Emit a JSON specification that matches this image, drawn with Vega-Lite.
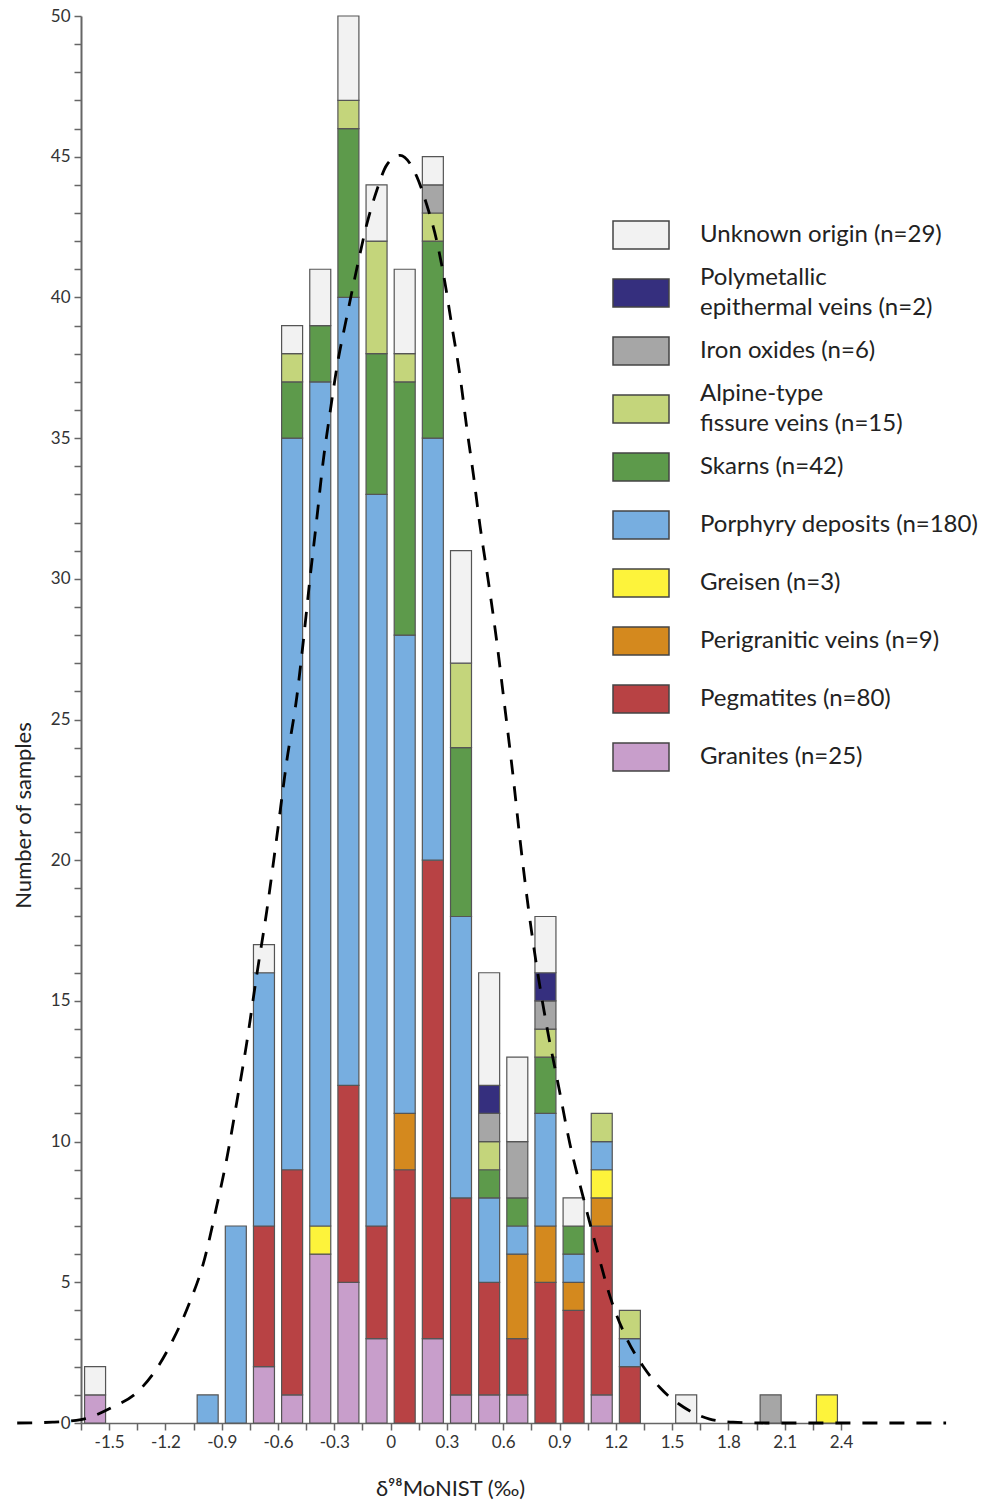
{
  "$schema": "https://vega.github.io/schema/vega-lite/v6.json",
  "width": 760,
  "height": 1407,
  "autosize": {"type": "none"},
  "padding": {"left": 81, "top": 16, "right": 146, "bottom": 83},
  "background": "white",
  "config": {"view": {"stroke": null}, "font": "Lato", "style": {"guide-label": {"lineHeight": 30}}},
  "datasets": {
    "bars": [
      {"d98Mo": -1.575, "type": "Granites (n=25)", "count": 1},
      {"d98Mo": -1.575, "type": "Unknown origin (n=29)", "count": 1},
      {"d98Mo": -0.975, "type": "Porphyry deposits (n=180)", "count": 1},
      {"d98Mo": -0.825, "type": "Porphyry deposits (n=180)", "count": 7},
      {"d98Mo": -0.675, "type": "Granites (n=25)", "count": 2},
      {"d98Mo": -0.675, "type": "Pegmatites (n=80)", "count": 5},
      {"d98Mo": -0.675, "type": "Porphyry deposits (n=180)", "count": 9},
      {"d98Mo": -0.675, "type": "Unknown origin (n=29)", "count": 1},
      {"d98Mo": -0.525, "type": "Granites (n=25)", "count": 1},
      {"d98Mo": -0.525, "type": "Pegmatites (n=80)", "count": 8},
      {"d98Mo": -0.525, "type": "Porphyry deposits (n=180)", "count": 26},
      {"d98Mo": -0.525, "type": "Skarns (n=42)", "count": 2},
      {"d98Mo": -0.525, "type": "Alpine-type fissure veins (n=15)", "count": 1},
      {"d98Mo": -0.525, "type": "Unknown origin (n=29)", "count": 1},
      {"d98Mo": -0.375, "type": "Granites (n=25)", "count": 6},
      {"d98Mo": -0.375, "type": "Greisen (n=3)", "count": 1},
      {"d98Mo": -0.375, "type": "Porphyry deposits (n=180)", "count": 30},
      {"d98Mo": -0.375, "type": "Skarns (n=42)", "count": 2},
      {"d98Mo": -0.375, "type": "Unknown origin (n=29)", "count": 2},
      {"d98Mo": -0.225, "type": "Granites (n=25)", "count": 5},
      {"d98Mo": -0.225, "type": "Pegmatites (n=80)", "count": 7},
      {"d98Mo": -0.225, "type": "Porphyry deposits (n=180)", "count": 28},
      {"d98Mo": -0.225, "type": "Skarns (n=42)", "count": 6},
      {"d98Mo": -0.225, "type": "Alpine-type fissure veins (n=15)", "count": 1},
      {"d98Mo": -0.225, "type": "Unknown origin (n=29)", "count": 3},
      {"d98Mo": -0.075, "type": "Granites (n=25)", "count": 3},
      {"d98Mo": -0.075, "type": "Pegmatites (n=80)", "count": 4},
      {"d98Mo": -0.075, "type": "Porphyry deposits (n=180)", "count": 26},
      {"d98Mo": -0.075, "type": "Skarns (n=42)", "count": 5},
      {"d98Mo": -0.075, "type": "Alpine-type fissure veins (n=15)", "count": 4},
      {"d98Mo": -0.075, "type": "Unknown origin (n=29)", "count": 2},
      {"d98Mo": 0.075, "type": "Pegmatites (n=80)", "count": 9},
      {"d98Mo": 0.075, "type": "Perigranitic veins (n=9)", "count": 2},
      {"d98Mo": 0.075, "type": "Porphyry deposits (n=180)", "count": 17},
      {"d98Mo": 0.075, "type": "Skarns (n=42)", "count": 9},
      {"d98Mo": 0.075, "type": "Alpine-type fissure veins (n=15)", "count": 1},
      {"d98Mo": 0.075, "type": "Unknown origin (n=29)", "count": 3},
      {"d98Mo": 0.225, "type": "Granites (n=25)", "count": 3},
      {"d98Mo": 0.225, "type": "Pegmatites (n=80)", "count": 17},
      {"d98Mo": 0.225, "type": "Porphyry deposits (n=180)", "count": 15},
      {"d98Mo": 0.225, "type": "Skarns (n=42)", "count": 7},
      {"d98Mo": 0.225, "type": "Alpine-type fissure veins (n=15)", "count": 1},
      {"d98Mo": 0.225, "type": "Iron oxides (n=6)", "count": 1},
      {"d98Mo": 0.225, "type": "Unknown origin (n=29)", "count": 1},
      {"d98Mo": 0.375, "type": "Granites (n=25)", "count": 1},
      {"d98Mo": 0.375, "type": "Pegmatites (n=80)", "count": 7},
      {"d98Mo": 0.375, "type": "Porphyry deposits (n=180)", "count": 10},
      {"d98Mo": 0.375, "type": "Skarns (n=42)", "count": 6},
      {"d98Mo": 0.375, "type": "Alpine-type fissure veins (n=15)", "count": 3},
      {"d98Mo": 0.375, "type": "Unknown origin (n=29)", "count": 4},
      {"d98Mo": 0.525, "type": "Granites (n=25)", "count": 1},
      {"d98Mo": 0.525, "type": "Pegmatites (n=80)", "count": 4},
      {"d98Mo": 0.525, "type": "Porphyry deposits (n=180)", "count": 3},
      {"d98Mo": 0.525, "type": "Skarns (n=42)", "count": 1},
      {"d98Mo": 0.525, "type": "Alpine-type fissure veins (n=15)", "count": 1},
      {"d98Mo": 0.525, "type": "Iron oxides (n=6)", "count": 1},
      {"d98Mo": 0.525, "type": "Polymetallic epithermal veins (n=2)", "count": 1},
      {"d98Mo": 0.525, "type": "Unknown origin (n=29)", "count": 4},
      {"d98Mo": 0.675, "type": "Granites (n=25)", "count": 1},
      {"d98Mo": 0.675, "type": "Pegmatites (n=80)", "count": 2},
      {"d98Mo": 0.675, "type": "Perigranitic veins (n=9)", "count": 3},
      {"d98Mo": 0.675, "type": "Porphyry deposits (n=180)", "count": 1},
      {"d98Mo": 0.675, "type": "Skarns (n=42)", "count": 1},
      {"d98Mo": 0.675, "type": "Iron oxides (n=6)", "count": 2},
      {"d98Mo": 0.675, "type": "Unknown origin (n=29)", "count": 3},
      {"d98Mo": 0.825, "type": "Pegmatites (n=80)", "count": 5},
      {"d98Mo": 0.825, "type": "Perigranitic veins (n=9)", "count": 2},
      {"d98Mo": 0.825, "type": "Porphyry deposits (n=180)", "count": 4},
      {"d98Mo": 0.825, "type": "Skarns (n=42)", "count": 2},
      {"d98Mo": 0.825, "type": "Alpine-type fissure veins (n=15)", "count": 1},
      {"d98Mo": 0.825, "type": "Iron oxides (n=6)", "count": 1},
      {"d98Mo": 0.825, "type": "Polymetallic epithermal veins (n=2)", "count": 1},
      {"d98Mo": 0.825, "type": "Unknown origin (n=29)", "count": 2},
      {"d98Mo": 0.975, "type": "Pegmatites (n=80)", "count": 4},
      {"d98Mo": 0.975, "type": "Perigranitic veins (n=9)", "count": 1},
      {"d98Mo": 0.975, "type": "Porphyry deposits (n=180)", "count": 1},
      {"d98Mo": 0.975, "type": "Skarns (n=42)", "count": 1},
      {"d98Mo": 0.975, "type": "Unknown origin (n=29)", "count": 1},
      {"d98Mo": 1.125, "type": "Granites (n=25)", "count": 1},
      {"d98Mo": 1.125, "type": "Pegmatites (n=80)", "count": 6},
      {"d98Mo": 1.125, "type": "Perigranitic veins (n=9)", "count": 1},
      {"d98Mo": 1.125, "type": "Greisen (n=3)", "count": 1},
      {"d98Mo": 1.125, "type": "Porphyry deposits (n=180)", "count": 1},
      {"d98Mo": 1.125, "type": "Alpine-type fissure veins (n=15)", "count": 1},
      {"d98Mo": 1.275, "type": "Pegmatites (n=80)", "count": 2},
      {"d98Mo": 1.275, "type": "Porphyry deposits (n=180)", "count": 1},
      {"d98Mo": 1.275, "type": "Alpine-type fissure veins (n=15)", "count": 1},
      {"d98Mo": 1.575, "type": "Unknown origin (n=29)", "count": 1},
      {"d98Mo": 2.025, "type": "Iron oxides (n=6)", "count": 1},
      {"d98Mo": 2.325, "type": "Greisen (n=3)", "count": 1}
    ],
    "curve": [
      {"d98Mo": -1.99, "count": 0},
      {"d98Mo": -1.8, "count": 0.03},
      {"d98Mo": -1.65, "count": 0.12},
      {"d98Mo": -1.48, "count": 0.57},
      {"d98Mo": -1.35, "count": 1.1},
      {"d98Mo": -1.24, "count": 2.0},
      {"d98Mo": -1.16, "count": 2.95},
      {"d98Mo": -1.07, "count": 4.3},
      {"d98Mo": -0.998, "count": 5.67},
      {"d98Mo": -0.927, "count": 7.7},
      {"d98Mo": -0.873, "count": 9.4},
      {"d98Mo": -0.82, "count": 11.4},
      {"d98Mo": -0.767, "count": 13.5},
      {"d98Mo": -0.714, "count": 15.9},
      {"d98Mo": -0.66, "count": 18.2},
      {"d98Mo": -0.607, "count": 20.8},
      {"d98Mo": -0.554, "count": 23.5},
      {"d98Mo": -0.5, "count": 25.8},
      {"d98Mo": -0.465, "count": 27.8},
      {"d98Mo": -0.43, "count": 30.0},
      {"d98Mo": -0.394, "count": 32.1},
      {"d98Mo": -0.359, "count": 34.2},
      {"d98Mo": -0.323, "count": 35.9},
      {"d98Mo": -0.287, "count": 37.5},
      {"d98Mo": -0.234, "count": 39.3},
      {"d98Mo": -0.181, "count": 41.0},
      {"d98Mo": -0.127, "count": 42.6},
      {"d98Mo": -0.074, "count": 43.8},
      {"d98Mo": -0.021, "count": 44.7},
      {"d98Mo": 0.05, "count": 45.05},
      {"d98Mo": 0.139, "count": 44.3},
      {"d98Mo": 0.192, "count": 43.3},
      {"d98Mo": 0.246, "count": 42.0},
      {"d98Mo": 0.29, "count": 40.5},
      {"d98Mo": 0.326, "count": 39.0},
      {"d98Mo": 0.37, "count": 37.2},
      {"d98Mo": 0.405, "count": 35.4},
      {"d98Mo": 0.441, "count": 33.7},
      {"d98Mo": 0.476, "count": 31.9},
      {"d98Mo": 0.521, "count": 29.9},
      {"d98Mo": 0.565, "count": 27.8},
      {"d98Mo": 0.6, "count": 25.9},
      {"d98Mo": 0.654, "count": 22.9},
      {"d98Mo": 0.69, "count": 20.7},
      {"d98Mo": 0.734, "count": 18.3},
      {"d98Mo": 0.779, "count": 16.2},
      {"d98Mo": 0.832, "count": 14.1},
      {"d98Mo": 0.894, "count": 12.0},
      {"d98Mo": 0.956, "count": 9.9},
      {"d98Mo": 1.027, "count": 8.0},
      {"d98Mo": 1.098, "count": 6.2},
      {"d98Mo": 1.169, "count": 4.5},
      {"d98Mo": 1.258, "count": 3.0},
      {"d98Mo": 1.347, "count": 2.0},
      {"d98Mo": 1.436, "count": 1.25},
      {"d98Mo": 1.56, "count": 0.57},
      {"d98Mo": 1.7, "count": 0.14},
      {"d98Mo": 1.825, "count": 0.03},
      {"d98Mo": 2.0, "count": 0},
      {"d98Mo": 2.96, "count": 0}
    ]
  },
  "layer": [
    {
      "data": {"name": "bars"},
      "transform": [
        {"calculate": "indexof(['Unknown origin (n=29)','Polymetallic epithermal veins (n=2)','Iron oxides (n=6)','Alpine-type fissure veins (n=15)','Skarns (n=42)','Porphyry deposits (n=180)','Greisen (n=3)','Perigranitic veins (n=9)','Pegmatites (n=80)','Granites (n=25)'], datum.type)", "as": "rank"}
      ],
      "mark": {"type": "bar", "width": 21, "stroke": "#555555", "strokeWidth": 1.2, "opacity": 1},
      "encoding": {
        "x": {
          "field": "d98Mo", "type": "quantitative",
          "scale": {"domain": [-1.65, 2.4], "nice": false, "zero": false, "padding": 0},
          "axis": {
            "title": "δ⁹⁸MoNIST (‰)",
            "values": [-1.65, -1.5, -1.35, -1.2, -1.05, -0.9, -0.75, -0.6, -0.45, -0.3, -0.15, 0, 0.15, 0.3, 0.45, 0.6, 0.75, 0.9, 1.05, 1.2, 1.35, 1.5, 1.65, 1.8, 1.95, 2.1, 2.25, 2.4],
            "tickCount": 200,
            "labelExpr": "abs(datum.value/0.3 - round(datum.value/0.3)) < 0.01 ? '' + datum.value : ''",
            "grid": false,
            "tickSize": 7, "tickColor": "#666666", "tickWidth": 1.5,
            "domainColor": "#666666", "domainWidth": 1.5,
            "labelFontSize": 17, "labelColor": "#333333", "labelPadding": 4, "labelFont": "Lato",
            "labelOverlap": false, "labelFlush": false,
            "titleFontSize": 22, "titleFontWeight": "normal", "titleColor": "#222222", "titleFont": "Lato",
            "titleX": 369, "titleY": 65, "titleBaseline": "middle", "titleAlign": "center"
          }
        },
        "y": {
          "field": "count", "type": "quantitative", "stack": "zero",
          "scale": {"domain": [0, 50], "nice": false},
          "axis": {
            "title": "Number of samples",
            "values": [0,1,2,3,4,5,6,7,8,9,10,11,12,13,14,15,16,17,18,19,20,21,22,23,24,25,26,27,28,29,30,31,32,33,34,35,36,37,38,39,40,41,42,43,44,45,46,47,48,49,50],
            "tickCount": 200,
            "labelExpr": "datum.value % 5 == 0 ? '' + datum.value : ''",
            "grid": false,
            "tickSize": 7, "tickColor": "#666666", "tickWidth": 1.5,
            "domainColor": "#666666", "domainWidth": 2,
            "labelFontSize": 17, "labelColor": "#333333", "labelPadding": 4, "labelFont": "Lato",
            "labelOverlap": false, "labelFlush": false,
            "titleFontSize": 22, "titleFontWeight": "normal", "titleColor": "#222222", "titleFont": "Lato",
            "titleX": -58, "titleY": 799, "titleAngle": -90, "titleBaseline": "middle", "titleAlign": "center"
          }
        },
        "color": {
          "field": "type", "type": "nominal",
          "scale": {
            "domain": ["Unknown origin (n=29)", "Polymetallic epithermal veins (n=2)", "Iron oxides (n=6)", "Alpine-type fissure veins (n=15)", "Skarns (n=42)", "Porphyry deposits (n=180)", "Greisen (n=3)", "Perigranitic veins (n=9)", "Pegmatites (n=80)", "Granites (n=25)"],
            "range": ["#f2f2f2", "#352f7e", "#a6a6a6", "#c4d57b", "#5d9a4b", "#77aee0", "#fdf33b", "#d4891e", "#b84244", "#c89ecb"]
          },
          "legend": {
            "title": null,
            "orient": "none", "legendX": 545, "legendY": 204,
            "padding": 0,
            "symbolType": "M-2,-1H2V1H-2Z",
            "symbolSize": 784,
            "symbolStrokeColor": "#444444", "symbolStrokeWidth": 1.5, "symbolOpacity": 1,
            "labelFontSize": 24, "labelFont": "Lato", "labelColor": "#222222",
            "labelOffset": 44, "labelLimit": 400,
            "gridAlign": "all", "rowPadding": 4,
            "labelExpr": "datum.label == 'Polymetallic epithermal veins (n=2)' ? ['Polymetallic', 'epithermal veins (n=2)'] : datum.label == 'Alpine-type fissure veins (n=15)' ? ['Alpine-type', 'fissure veins (n=15)'] : datum.label",
            "encoding": {
              "labels": {
                "dy": {"value": {"expr": "indexof(['Polymetallic epithermal veins (n=2)', 'Alpine-type fissure veins (n=15)'], datum.label) >= 0 ? -15 : 0"}}
              }
            }
          }
        },
        "order": {"field": "rank", "type": "quantitative", "sort": "descending"}
      }
    },
    {
      "data": {"name": "curve"},
      "mark": {"type": "line", "color": "black", "strokeDash": [15, 12], "strokeWidth": 2.8, "interpolate": "monotone", "clip": false},
      "encoding": {
        "x": {"field": "d98Mo", "type": "quantitative"},
        "y": {"field": "count", "type": "quantitative"}
      }
    }
  ]
}
